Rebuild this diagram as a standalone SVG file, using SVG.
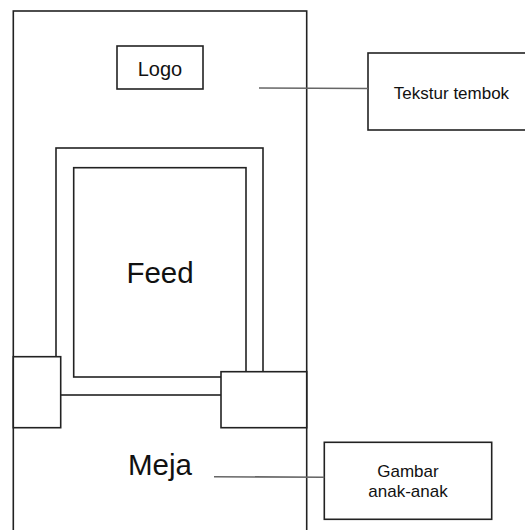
<svg xmlns="http://www.w3.org/2000/svg" width="525" height="530" viewBox="0 0 525 530">
<style>
.box{fill:#fff;stroke:#222;stroke-width:1.6}
.con{fill:none;stroke:#666;stroke-width:1.6}
.t{font-family:"Liberation Sans",Arial,sans-serif;fill:#111;text-anchor:middle}
</style>
<rect width="525" height="530" fill="#fff"/>
<g id="wall">
<rect class="box" x="13.3" y="11" width="293.4" height="530"/>
</g>
<g id="logo">
<rect class="box" x="117" y="46" width="86" height="43"/>
<text class="t" x="160" y="76" font-size="20">Logo</text>
</g>
<g id="feed-frame">
<rect class="box" x="56" y="148" width="207" height="247"/>
</g>
<g id="feed">
<rect class="box" x="73.7" y="167.7" width="172.3" height="209.3"/>
<text class="t" x="160" y="283.3" font-size="29.5">Feed</text>
</g>
<g id="left-block">
<rect class="box" x="13.3" y="356.7" width="47.4" height="71"/>
</g>
<g id="right-block">
<rect class="box" x="221" y="371.7" width="85.7" height="56"/>
</g>
<g id="meja">
<text class="t" x="160" y="475" font-size="29.5">Meja</text>
</g>
<g id="tekstur">
<rect class="box" x="368" y="53" width="172" height="77"/>
<text class="t" x="451.5" y="99.3" font-size="17">Tekstur tembok</text>
</g>
<g id="gambar">
<rect class="box" x="324.3" y="442.3" width="167.4" height="77"/>
<text class="t" x="408" y="477" font-size="17">Gambar</text>
<text class="t" x="408" y="497" font-size="17">anak-anak</text>
</g>
<g id="connectors">
<line class="con" x1="259" y1="88" x2="368" y2="88.5"/>
<line class="con" x1="214" y1="476.7" x2="324.3" y2="477.3"/>
</g>
</svg>
